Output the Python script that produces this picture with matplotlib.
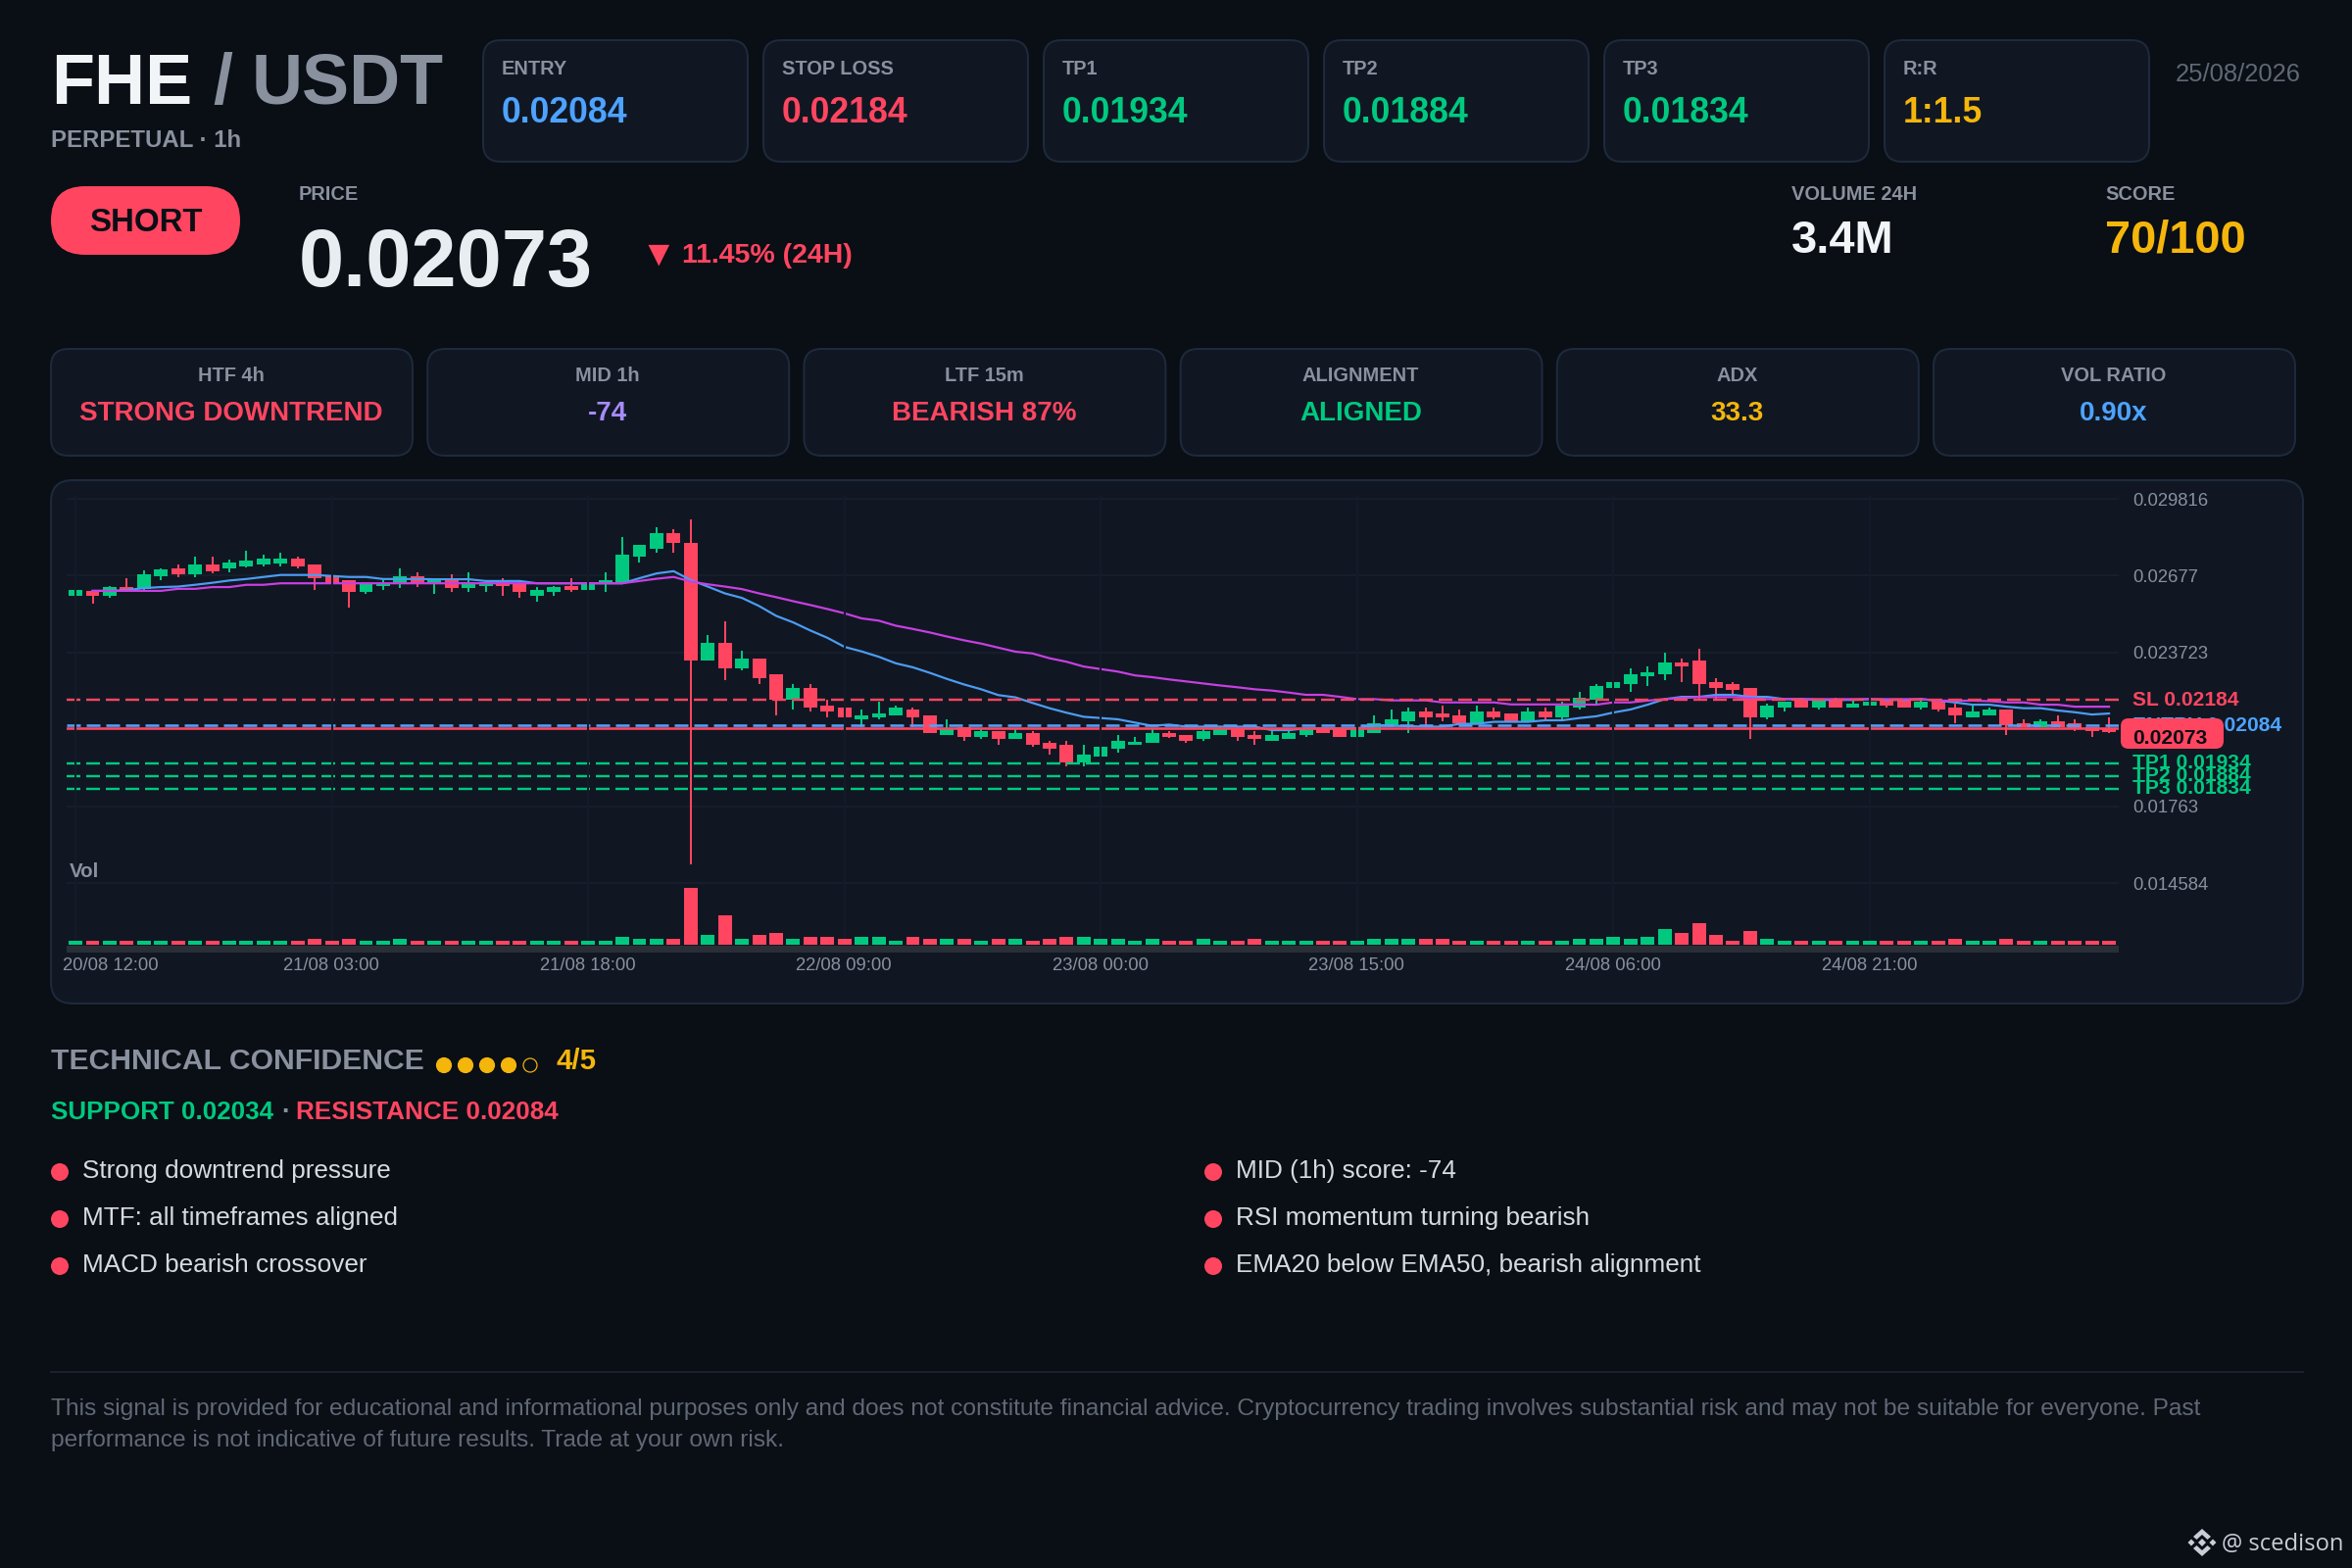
import numpy as np
import matplotlib
matplotlib.use('Agg')
import matplotlib.pyplot as plt
from matplotlib.patches import FancyBboxPatch, Rectangle, Circle, Polygon

plt.rcParams['font.family'] = ['Liberation Sans', 'DejaVu Sans']
plt.rcParams['lines.scale_dashes'] = False

# candles, in 1e-5 price units
opens = [2598,2615,2597,2634,2623,2676,2705,2682,2721,2705,2713,2721,2726,2744,2721,2674,2659,2612,2636,2643,
         2674,2647,2659,2628,2636,2651,2647,2597,2612,2636,2621,2650,2651,2752,2783,2845,2806,2341,2411,2310,
         2348,2286,2186,2232,2162,2154,2108,2116,2123,2147,2123,2046,2077,2038,2061,2030,2054,2015,2007,1937,
         1960,1991,2007,2015,2054,2046,2030,2046,2072,2046,2023,2030,2046,2072,2069,2038,2054,2085,2100,2139,
         2131,2123,2092,2139,2131,2100,2139,2116,2154,2186,2232,2248,2279,2286,2333,2341,2255,2248,2232,2116,
         2154,2186,2154,2186,2154,2162,2186,2186,2154,2186,2154,2116,2123,2147,2092,2077,2100,2092,2077,2073]
highs = [2622,2616,2635,2667,2699,2705,2721,2753,2753,2740,2775,2760,2769,2753,2722,2675,2660,2644,2664,2705,
         2690,2664,2682,2690,2659,2667,2651,2634,2636,2667,2651,2690,2830,2799,2868,2861,2899,2442,2496,2379,
         2349,2287,2248,2248,2186,2155,2147,2178,2162,2154,2124,2108,2078,2069,2062,2069,2061,2023,2023,2007,
         2000,2046,2038,2069,2061,2047,2082,2082,2078,2061,2064,2064,2069,2073,2070,2070,2123,2147,2154,2154,
         2162,2147,2162,2154,2132,2154,2154,2178,2217,2248,2256,2310,2317,2372,2348,2387,2271,2255,2233,2170,
         2179,2193,2187,2193,2186,2179,2187,2187,2193,2187,2170,2162,2154,2148,2108,2108,2123,2108,2078,2116]
lows = [2597,2566,2589,2614,2622,2659,2672,2673,2687,2689,2711,2712,2713,2705,2620,2642,2550,2605,2620,2628,
        2634,2605,2612,2612,2612,2597,2589,2574,2597,2612,2620,2612,2650,2729,2767,2767,1535,2340,2263,2302,
        2248,2123,2147,2139,2116,2115,2077,2108,2122,2077,2053,2045,2023,2030,2007,2029,1999,1968,1922,1922,
        1959,1976,2006,2014,2033,2015,2023,2045,2023,2007,2022,2029,2038,2053,2037,2037,2053,2084,2054,2085,
        2100,2091,2091,2108,2099,2099,2108,2108,2147,2170,2231,2216,2240,2263,2255,2182,2182,2201,2030,2108,
        2139,2153,2147,2153,2153,2161,2154,2153,2147,2139,2092,2115,2122,2046,2076,2076,2076,2061,2038,2055]
closes = [2620,2599,2634,2615,2682,2704,2682,2720,2695,2730,2736,2744,2744,2714,2667,2643,2614,2643,2647,2674,
          2643,2663,2630,2651,2651,2636,2612,2620,2634,2620,2650,2658,2760,2799,2845,2806,2341,2411,2310,2348,
          2271,2186,2232,2154,2139,2116,2123,2131,2154,2116,2054,2069,2038,2061,2030,2054,2007,1992,1937,1968,
          1999,2023,2020,2054,2038,2023,2061,2069,2038,2030,2046,2054,2069,2054,2038,2069,2091,2108,2139,2116,
          2116,2092,2139,2116,2100,2139,2116,2162,2193,2240,2255,2286,2294,2333,2317,2248,2232,2224,2116,2162,
          2178,2154,2186,2154,2169,2178,2162,2154,2178,2147,2123,2139,2147,2085,2077,2100,2077,2072,2061,2056]
volumes = [12,12,12,12,12,12,12,12,12,12,12,12,12,12,18,12,18,12,12,18,
           12,12,12,12,12,12,12,12,12,12,12,12,25,18,18,18,175,30,90,18,
           30,36,18,24,24,18,24,24,12,24,18,18,18,12,18,18,12,18,24,24,
           18,18,12,18,12,12,18,12,12,18,12,12,12,12,12,12,18,18,18,18,
           18,12,12,12,12,12,12,12,18,18,24,18,24,48,36,65,30,12,42,18,
           12,12,12,12,12,12,12,12,12,12,18,12,12,18,12,12,12,12,12,12]
ema20 = [np.nan,2617,2617,2620,2628,2632,2634,2641,2649,2658,2664,2672,2680,2680,2680,2676,2672,2672,2664,2664,
         2664,2663,2663,2663,2656,2656,2656,2647,2647,2647,2647,2647,2647,2667,2686,2695,2660,2634,2607,2589,
         2557,2518,2492,2460,2431,2395,2377,2356,2330,2314,2292,2268,2246,2227,2204,2195,2173,2152,2134,2118,
         2113,2108,2095,2082,2087,2079,2079,2079,2079,2079,2065,2065,2072,2072,2072,2072,2085,2082,2081,2079,
         2079,2090,2090,2098,2098,2098,2104,2104,2113,2120,2135,2147,2166,2188,2197,2197,2205,2205,2197,2197,
         2188,2188,2185,2185,2185,2188,2185,2185,2188,2182,2175,2166,2166,2158,2152,2152,2143,2136,2127,2131]
ema50 = [np.nan,2617,2617,2617,2617,2617,2625,2625,2632,2632,2641,2641,2647,2647,2647,2647,2647,2647,2647,2647,
         2647,2647,2647,2647,2647,2647,2647,2647,2647,2647,2647,2647,2647,2656,2665,2672,2654,2643,2634,2624,
         2607,2592,2576,2561,2545,2528,2508,2499,2479,2466,2452,2436,2421,2408,2392,2376,2369,2350,2336,2317,
         2307,2297,2282,2275,2266,2258,2250,2242,2235,2227,2222,2214,2205,2205,2197,2188,2188,2183,2183,2183,
         2175,2175,2175,2175,2167,2167,2167,2167,2167,2166,2175,2175,2182,2188,2192,2196,2196,2196,2192,2188,
         2188,2188,2188,2188,2188,2188,2188,2188,2188,2182,2182,2182,2180,2175,2175,2166,2166,2158,2158,2158]

tick_idx = [0, 15, 30, 45, 60, 75, 90, 105]
tick_labels = ['20/08 12:00', '21/08 03:00', '21/08 18:00', '22/08 09:00',
               '23/08 00:00', '23/08 15:00', '24/08 06:00', '24/08 21:00']
price_ticks = [0.029816, 0.02677, 0.023723, 0.01763, 0.014584]
price_tick_labels = ['0.029816', '0.02677', '0.023723', '0.01763', '0.014584']
levels = {'SL': 0.02184, 'ENTRY': 0.02084, 'TP1': 0.01934, 'TP2': 0.01884, 'TP3': 0.01834}
last_price = 0.02073

top_cards = [('ENTRY', '0.02084', 'blue'), ('STOP LOSS', '0.02184', 'red'), ('TP1', '0.01934', 'green'),
             ('TP2', '0.01884', 'green'), ('TP3', '0.01834', 'green'), ('R:R', '1:1.5', 'yellow')]
mid_cards = [('HTF 4h', 'STRONG DOWNTREND', 'red'), ('MID 1h', '-74', 'purple'), ('LTF 15m', 'BEARISH 87%', 'red'),
             ('ALIGNMENT', 'ALIGNED', 'green'), ('ADX', '33.3', 'yellow'), ('VOL RATIO', '0.90x', 'blue')]
reasons_left = ['Strong downtrend pressure', 'MTF: all timeframes aligned', 'MACD bearish crossover']
reasons_right = ['MID (1h) score: -74', 'RSI momentum turning bearish', 'EMA20 below EMA50, bearish alignment']
disclaimer = ['This signal is provided for educational and informational purposes only and does not constitute '
              'financial advice. Cryptocurrency trading involves substantial risk and may not be suitable for everyone. Past',
              'performance is not indicative of future results. Trade at your own risk.']

col = {'bg': '#0a0e15', 'card': '#101723', 'border': '#1e2a3c', 'red': '#ff4560', 'green': '#00c97f',
       'blue': '#4da3ff', 'yellow': '#f5b60c', 'purple': '#a78bfa', 'grey': '#8a919e', 'dim': '#606875',
       'white': '#f2f5f8', 'text': '#d6dbe2', 'magenta': '#c83fe2', 'ema': '#4d9cf2'}

W, H = 2400, 1600
PT = 72 / 200  # one pixel in points

fig = plt.figure(figsize=(12, 8), dpi=200, facecolor=col['bg'])

# page layer in pixel coordinates
page = fig.add_axes([0, 0, 1, 1], zorder=0)
page.set_xlim(0, W)
page.set_ylim(H, 0)
page.axis('off')
front = fig.add_axes([0, 0, 1, 1], zorder=5)
front.set_xlim(0, W)
front.set_ylim(H, 0)
front.axis('off')


def txt(x, yc, s, size, color, weight='normal', ha='left', target=None, **kw):
    # yc is the middle of the capitals, size in pixels
    (target or page).text(x, yc + 0.358 * size, s, fontsize=size * PT, color=color, fontweight=weight,
                          ha=ha, va='baseline', **kw)


def card(x0, y0, x1, y1, r=18):
    page.add_patch(FancyBboxPatch((x0 + r, y0 + r), x1 - x0 - 2 * r, y1 - y0 - 2 * r,
                                  boxstyle='round,pad=%d,rounding_size=%d' % (r, r),
                                  fc=col['card'], ec=col['border'], lw=2 * PT))


# header
txt(52, 80, 'FHE', 72, col['white'], 'bold')
txt(217, 80, '/', 72, col['grey'], 'bold')
txt(257, 80, 'USDT', 72, col['grey'], 'bold')
txt(52, 141, 'PERPETUAL · 1h', 24, col['grey'], 'bold')

for i, (name, value, c) in enumerate(top_cards):
    x = 493 + 286 * i
    card(x, 41, x + 270, 165)
    txt(x + 19, 69, name, 20, col['grey'], 'bold')
    txt(x + 19, 112.5, value, 35.7, col[c], 'bold')
txt(2348, 74, '25/08/2026', 25.6, col['dim'], ha='right')

page.add_patch(FancyBboxPatch((87, 225), 123, 0, boxstyle='round,pad=35,rounding_size=35',
                              fc=col['red'], ec='none'))
txt(148.5, 224, 'SHORT', 33, col['bg'], 'bold', ha='center')
txt(305, 197, 'PRICE', 20, col['grey'], 'bold')
txt(305, 262, '0.02073', 83, '#e8edf2', 'bold')
txt(654, 257, '▼', 37, col['red'], 'bold')
txt(696, 258, '11.45% (24H)', 28.5, col['red'], 'bold')
txt(1828, 197, 'VOLUME 24H', 20, col['grey'], 'bold')
txt(1828, 241, '3.4M', 47, col['white'], 'bold')
txt(2148, 197, 'SCORE', 20, col['grey'], 'bold')
txt(2148, 241, '70/100', 47, col['yellow'], 'bold')

for i, (name, value, c) in enumerate(mid_cards):
    x = 52 + 384.2 * i
    card(x, 356, x + 369, 465)
    txt(x + 184, 381.5, name, 20, col['grey'], 'bold', ha='center')
    txt(x + 184, 419, value, 27.8, col[c], 'bold', ha='center')

# chart card and the strip under the volume bars
card(52, 490, 2350, 1024, r=22)
page.add_patch(Rectangle((68, 965), 2094, 7, fc='#2a2f37', ec='none'))

# price axis
L, R, T, B = 68, 2162, 505, 965
ax = fig.add_axes([L / W, 1 - B / H, (R - L) / W, (B - T) / H], zorder=1)
ax.patch.set_alpha(0)
ax.set_xlim(-0.52, 119.57)
SCALE = 25750
ax.set_ylim(last_price + (743 - B) / SCALE, last_price + (743 - T) / SCALE)
for s in ax.spines.values():
    s.set_visible(False)
ax.xaxis.set_visible(False)
ax.yaxis.tick_right()
ax.set_yticks(price_ticks)
ax.set_yticklabels(price_tick_labels, fontsize=18.5 * PT, color=col['grey'])
ax.tick_params(axis='y', length=0, pad=14 * PT)
for p in price_ticks:
    ax.axhline(p, color='#161e2b', lw=2 * PT, zorder=1)

idx = np.arange(len(closes))
o, h, l, c = [np.array(v) / 1e5 for v in (opens, highs, lows, closes)]
candle_col = [col['green'] if b >= a else col['red'] for a, b in zip(o, c)]
ax.vlines(idx, l, h, colors=candle_col, lw=2 * PT, zorder=2)
ax.bar(idx, np.abs(c - o), bottom=np.minimum(o, c), width=0.8, color=candle_col, zorder=2)
ax.plot(idx, np.array(ema20) / 1e5, color=col['ema'], lw=2.2 * PT, zorder=3)
ax.plot(idx, np.array(ema50) / 1e5, color=col['magenta'], lw=2.2 * PT, zorder=3)

dash = (0, (14 * PT, 6 * PT))
ax.axhline(levels['SL'], color=col['red'], lw=2.4 * PT, ls=dash, zorder=4)
ax.axhline(last_price, color=col['red'], lw=2.6 * PT, zorder=4)
ax.axhline(levels['ENTRY'], color=col['blue'], lw=2.6 * PT, ls=dash, zorder=5)
for k in ('TP1', 'TP2', 'TP3'):
    ax.axhline(levels[k], color=col['green'], lw=2.4 * PT, ls=dash, zorder=4)
# the time grid lies over the marks in the reference
ax.vlines(tick_idx, ax.get_ylim()[0], ax.get_ylim()[1], colors='#141b28', lw=2 * PT, zorder=6)

label_col = {'SL': 'red', 'ENTRY': 'blue', 'TP1': 'green', 'TP2': 'green', 'TP3': 'green'}
lx = 1 + 14 / (R - L)
for k, v in levels.items():
    ax.text(lx, v, '%s %.5f' % (k, v), transform=ax.get_yaxis_transform(), fontsize=21 * PT,
            color=col[label_col[k]], fontweight='bold', va='center', clip_on=False, zorder=7)

front.add_patch(FancyBboxPatch((2172, 741), 89, 15, boxstyle='round,pad=8,rounding_size=8',
                               fc=col['red'], ec='none'))
txt(2176, 751, '%.5f' % last_price, 21, col['bg'], 'bold', target=front)

# volume axis, one pixel is three units
vol = fig.add_axes([L / W, 1 - 964 / H, (R - L) / W, 64 / H], zorder=2)
vol.patch.set_alpha(0)
vol.set_xlim(ax.get_xlim())
vol.set_ylim(0, 192)
vol.axis('off')
vol.bar(idx, volumes, width=0.8, color=candle_col)
for i, lab in zip(tick_idx, tick_labels):
    first = i == tick_idx[0]
    vol.annotate(lab, (i, 0), xycoords=('data', 'axes fraction'),
                 xytext=(-13 * PT if first else -0.5 * PT, -26 * PT), textcoords='offset points',
                 ha='left' if first else 'center', va='baseline', fontsize=18.5 * PT, color=col['grey'],
                 annotation_clip=False)
txt(71, 888, 'Vol', 20.5, col['grey'], 'bold', target=front)

# confidence block
txt(52, 1080, 'TECHNICAL CONFIDENCE', 30.2, col['grey'], 'bold')
for i in range(5):
    filled = i < 4
    page.add_patch(Circle((453 + 22 * i, 1087), 7.5 if filled else 7, fc=col['yellow'] if filled else 'none',
                          ec=col['yellow'], lw=1.2 * PT))
txt(568, 1080, '4/5', 29.5, col['yellow'], 'bold')
txt(52, 1133, 'SUPPORT 0.02034', 26, col['green'], 'bold')
txt(287, 1133, '·', 26, col['grey'], 'bold')
txt(302, 1133, 'RESISTANCE 0.02084', 26.1, col['red'], 'bold')

for x, rows in ((61, reasons_left), (1238, reasons_right)):
    for y, s in zip((1196, 1244, 1292), rows):
        page.add_patch(Circle((x, y), 9, fc=col['red'], ec='none'))
        txt(x + 23, y - 3, s, 26.1, col['text'])

page.plot([52, 2350], [1400, 1400], color='#1b222d', lw=2 * PT)
txt(52, 1435.5, disclaimer[0], 24.52, col['dim'])
txt(52, 1467.5, disclaimer[1], 24.52, col['dim'])

# watermark with the exchange mark
mark = '#c8ced8'
cx, cy = 2247, 1574
for dx, dy, r in ((0, 0, 4), (-11, 0, 3.5), (11, 0, 3.5)):
    page.add_patch(Polygon([(cx + dx - r, cy + dy), (cx + dx, cy + dy - r), (cx + dx + r, cy + dy), (cx + dx, cy + dy + r)],
                           fc=mark, ec='none'))
page.add_patch(Polygon([(cx - 9, cy - 6), (cx, cy - 14), (cx + 9, cy - 6), (cx + 5.5, cy - 3), (cx, cy - 8), (cx - 5.5, cy - 3)],
                       fc=mark, ec='none'))
page.add_patch(Polygon([(cx - 9, cy + 6), (cx, cy + 14), (cx + 9, cy + 6), (cx + 5.5, cy + 3), (cx, cy + 8), (cx - 5.5, cy + 3)],
                       fc=mark, ec='none'))
page.text(2267, 1582, '@ scedison', fontsize=23.8 * PT, color=mark, family='Open Sans', va='baseline')

fig.savefig('out.png', dpi=200, facecolor=col['bg'])
